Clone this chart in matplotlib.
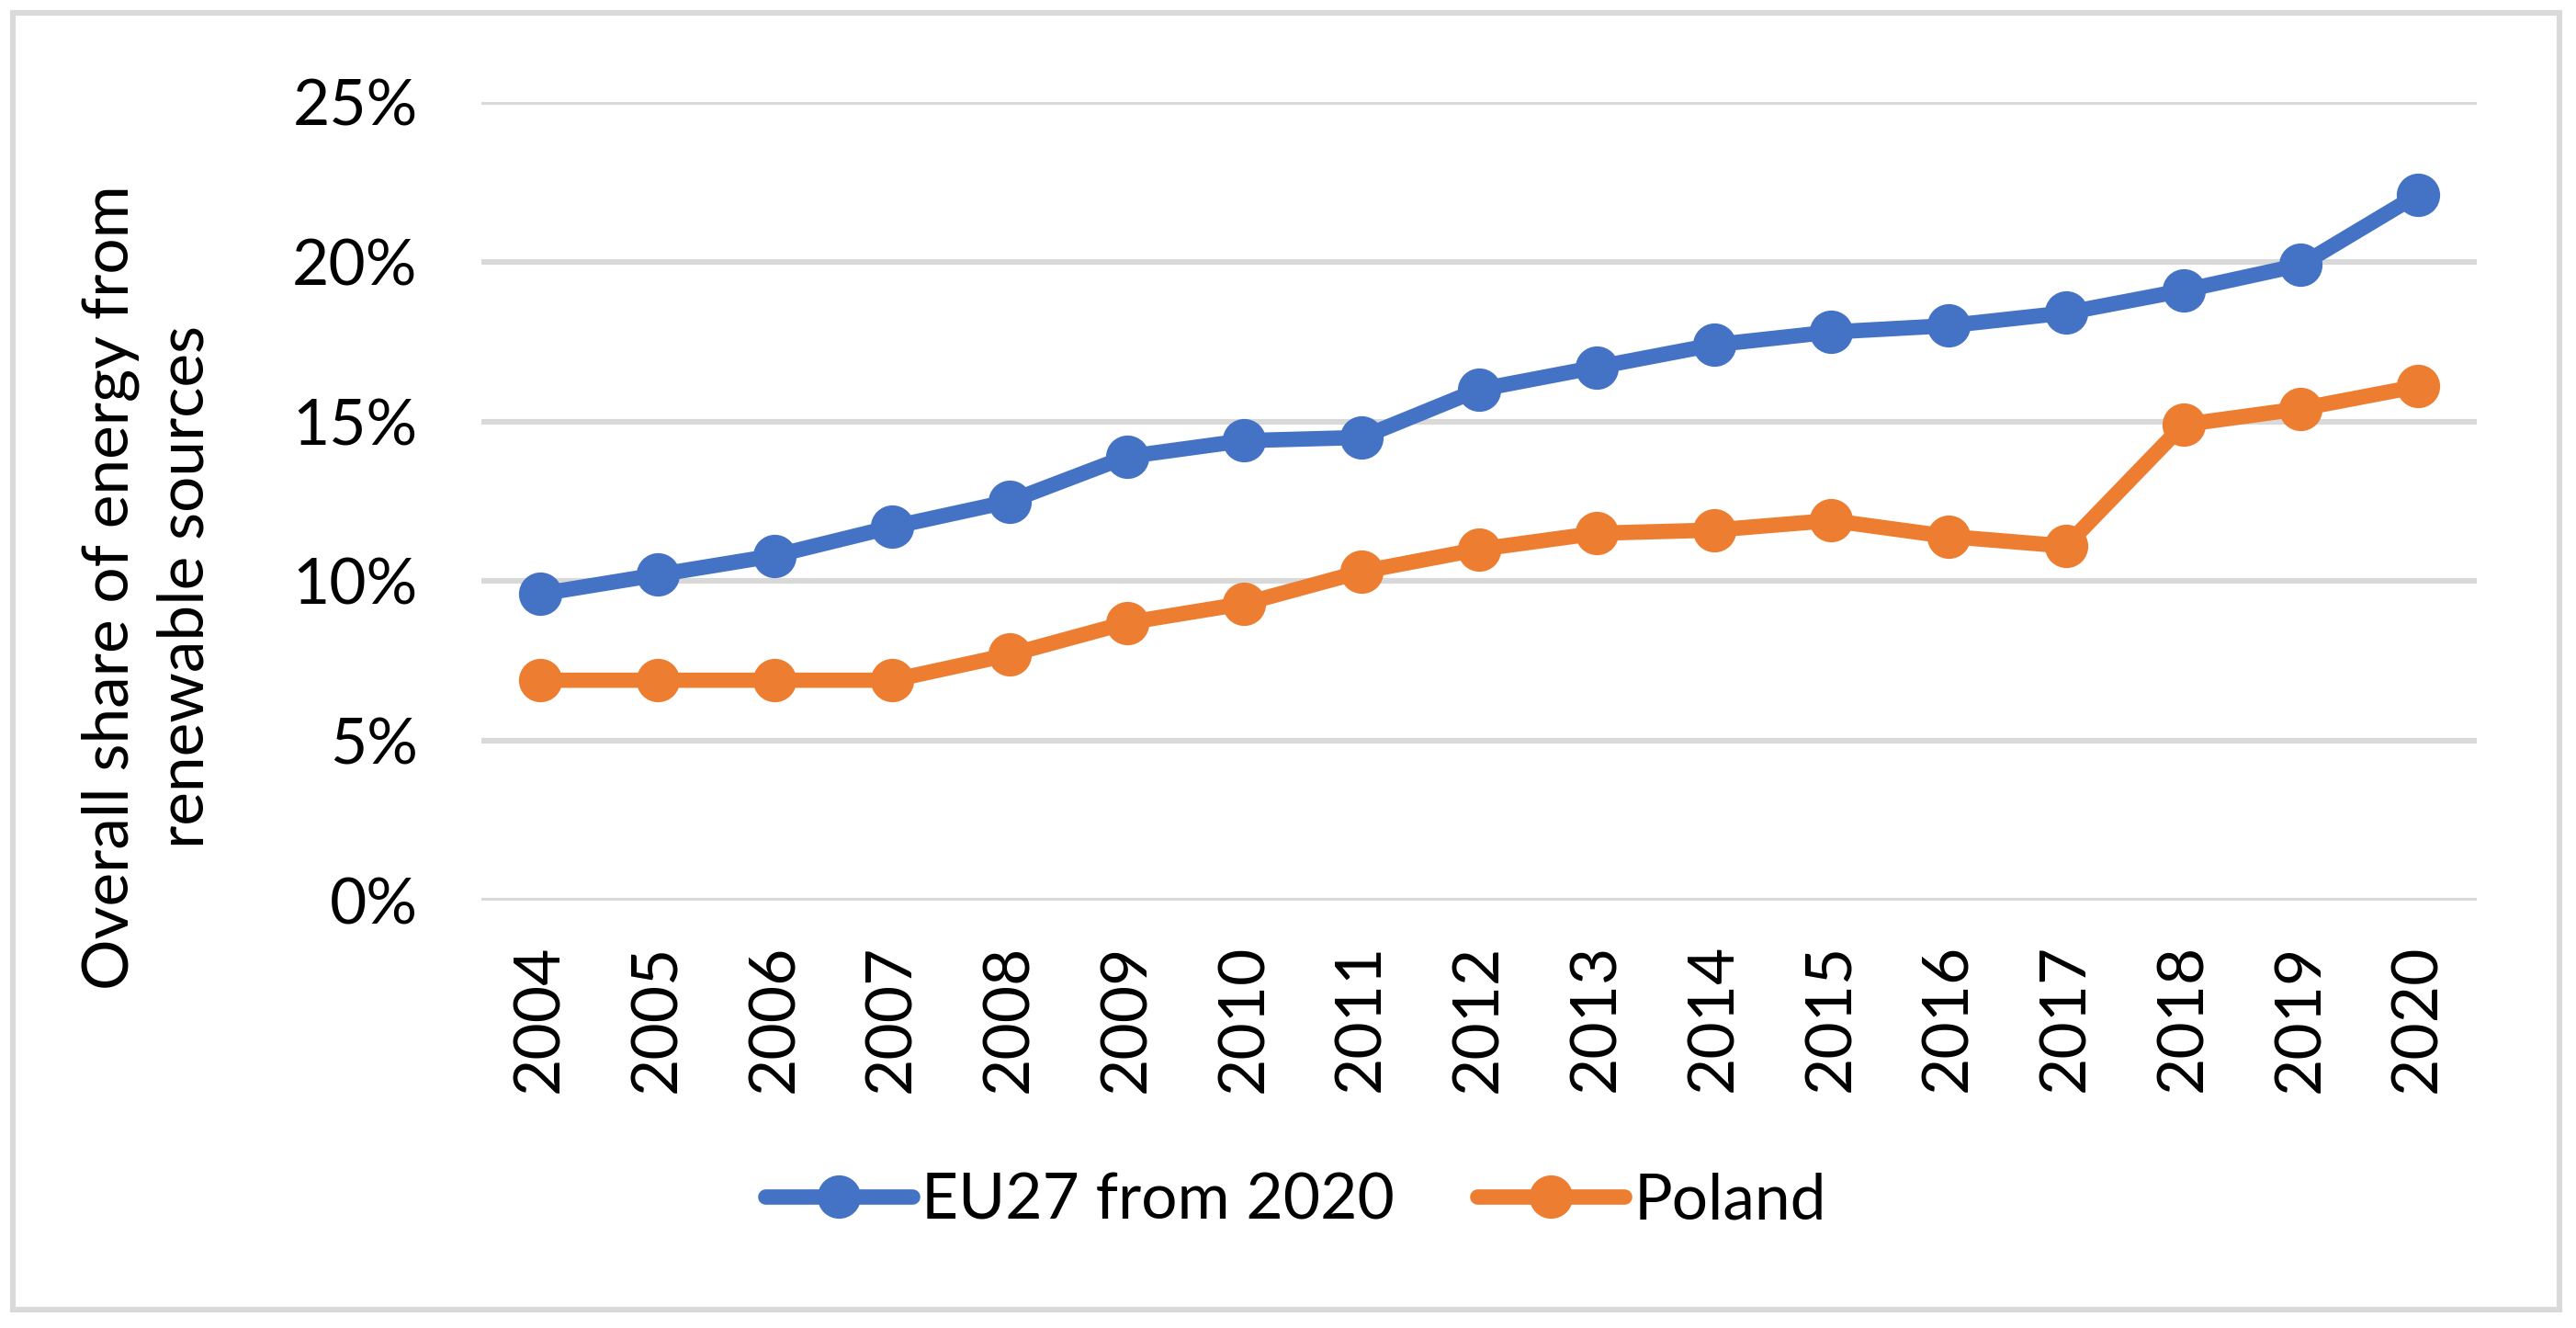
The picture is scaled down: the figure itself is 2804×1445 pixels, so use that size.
import matplotlib
matplotlib.use('Agg')
import matplotlib.pyplot as plt
from matplotlib.patches import Rectangle
from matplotlib.ticker import FuncFormatter

years = [str(y) for y in range(2004, 2021)]
eu27 = [9.6, 10.2, 10.8, 11.7, 12.5, 13.9, 14.4, 14.5, 16.0, 16.7, 17.4, 17.8, 18.0, 18.4, 19.1, 19.9, 22.1]
poland = [6.9, 6.9, 6.9, 6.9, 7.7, 8.7, 9.3, 10.3, 11.0, 11.5, 11.6, 11.9, 11.4, 11.1, 14.9, 15.4, 16.1]
series_names = ['EU27 from 2020', 'Poland']
COLOURS = ['#4472C4', '#ED7D31']

plt.rcParams['font.family'] = ['Lato', 'DejaVu Sans']
FS = 25

fig = plt.figure(figsize=(14.02, 7.225), dpi=200)
ax = fig.add_axes([524 / 2804, 1 - 980 / 1445, (2696 - 524) / 2804, (980 - 111) / 1445])

x = list(range(len(years)))
for vals, name, col in zip([eu27, poland], series_names, COLOURS):
    ax.plot(x, vals, color=col, lw=6, marker='o', ms=16, label=name,
            solid_capstyle='round', zorder=3)

ax.set_xlim(-0.5, len(years) - 0.5)
ax.set_ylim(0, 25)
ax.set_yticks([0, 5, 10, 15, 20, 25])
ax.yaxis.set_major_formatter(FuncFormatter(lambda v, p: '%d%%' % v))
ax.set_xticks(x)
ax.set_xticklabels(years, rotation=90)
ax.tick_params(axis='both', length=0, labelsize=FS, colors='black')
ax.tick_params(axis='y', pad=25)
ax.tick_params(axis='x', pad=17)
ax.grid(axis='y', color='#D9D9D9', lw=2.2, zorder=0)
ax.set_axisbelow(True)
for s in ax.spines.values():
    s.set_visible(False)

fig.text(0.0574, 0.558, 'Overall share of energy from\nrenewable sources', rotation=90,
         ha='center', va='center', fontsize=FS, linespacing=1.35)

lgd = fig.legend(loc='center', bbox_to_anchor=(0.503, 0.0955), ncol=2, frameon=False,
                 fontsize=FS, handlelength=2.3, handletextpad=0.15, columnspacing=1.3)

fig.patches.append(Rectangle((14 / 2804, 1 - 1425 / 1445), (2786 - 14) / 2804, (1425 - 14) / 1445,
                             transform=fig.transFigure, fill=False, edgecolor='#D9D9D9', lw=2.2))

plt.savefig('out.png', dpi=200)
